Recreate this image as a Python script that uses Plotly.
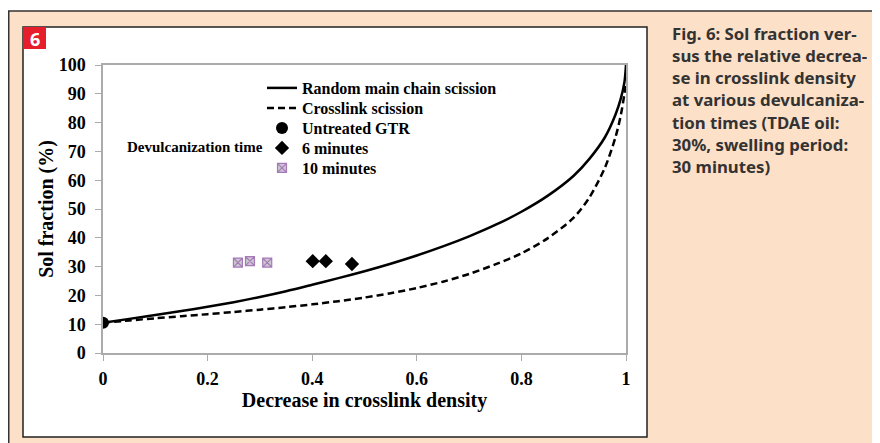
import plotly.graph_objects as go

# ---- data ----
rmcs_x = [0, 0.05, 0.1, 0.15, 0.2, 0.25, 0.3, 0.35, 0.4, 0.45, 0.5, 0.55, 0.6, 0.65, 0.7, 0.75, 0.8, 0.85, 0.9, 0.93, 0.96, 0.98, 0.99, 0.997, 1.0]
rmcs_y = [10.5, 11.85, 13.2, 14.6, 16.05, 17.65, 19.45, 21.45, 23.7, 26.0, 28.4, 31.0, 33.85, 37.0, 40.5, 44.45, 49.05, 54.55, 61.55, 67.4, 75.0, 82.8, 88.3, 94.0, 100.0]

cls_x = [0, 0.05, 0.1, 0.15, 0.2, 0.25, 0.3, 0.35, 0.4, 0.45, 0.5, 0.55, 0.6, 0.65, 0.7, 0.75, 0.8, 0.85, 0.9, 0.93, 0.96, 0.98, 0.99, 0.997, 1.0]
cls_y = [10.5, 11.3, 12.05, 12.77, 13.49, 14.24, 15.04, 15.92, 16.89, 17.99, 19.26, 20.76, 22.56, 24.76, 27.46, 30.76, 34.6, 39.8, 47.0, 54.0, 64.5, 75.0, 82.5, 90.0, 94.0]

untreated_x = [0]
untreated_y = [10.5]

min6_x = [0.401, 0.426, 0.476]
min6_y = [31.9, 31.9, 30.9]

min10_x = [0.258, 0.281, 0.314]
min10_y = [31.4, 31.9, 31.4]

caption_lines = [
    "Fig. 6: Sol fraction ver-",
    "sus the relative decrea-",
    "se in crosslink density",
    "at various devulcaniza-",
    "tion times (TDAE oil:",
    "30%, swelling period:",
    "30 minutes)",
]

# page has an 8px body margin: figure starts at page (8, 8)
OFF = 8
W, H = 880 - OFF, 443 - OFF
L, R, T, B = 103, 626, 65, 353  # plot area in page pixels


def px(x):
    return (x - L) / (R - L)


def py(y):
    return (B - y) / (B - T)


SERIF = "Liberation Serif, Times New Roman, serif"
SANS = "Noto Sans, sans-serif"

fig = go.Figure()
fig.add_trace(go.Scatter(x=rmcs_x, y=rmcs_y, mode="lines", name="Random main chain scission", legend="legend",
                         line=dict(color="black", width=2.5, shape="spline", smoothing=0.8)))
fig.add_trace(go.Scatter(x=cls_x, y=cls_y, mode="lines", name="Crosslink scission", legend="legend2",
                         line=dict(color="black", width=2.5, dash="7px,4px", shape="spline", smoothing=0.8)))
fig.add_trace(go.Scatter(x=untreated_x, y=untreated_y, mode="markers", name="Untreated GTR", legend="legend3",
                         marker=dict(symbol="circle", size=12, color="black")))
fig.add_trace(go.Scatter(x=min6_x, y=min6_y, mode="markers", name="6 minutes", legend="legend4",
                         marker=dict(symbol="diamond", size=11, color="black")))
fig.add_trace(go.Scatter(x=min10_x, y=min10_y, mode="markers", name="10 minutes", legend="legend5",
                         marker=dict(symbol="square-x", size=9, color="#cbc6cf",
                                     line=dict(color="#a679b8", width=1.2))))

shapes = [
    # outer peach frame
    dict(type="rect", xref="paper", yref="paper", x0=px(8.75), x1=px(900), y0=py(11), y1=py(470),
         fillcolor="#fde0c8", line=dict(color="#333333", width=1.5), layer="below"),
    # inner white panel
    dict(type="rect", xref="paper", yref="paper", x0=px(23), x1=px(647), y0=py(27), y1=py(437),
         fillcolor="white", line=dict(color="#222222", width=1.5), layer="below"),
    # red badge
    dict(type="rect", xref="paper", yref="paper", x0=px(23), x1=px(46), y0=py(27), y1=py(49),
         fillcolor="#e61e2b", line=dict(width=0), layer="below"),
]

annotations = [
    dict(text="6", xref="paper", yref="paper", x=px(34.5), y=py(38.5), showarrow=False,
         font=dict(family=SANS, size=18, color="white", weight="bold"), xanchor="center", yanchor="middle"),
    dict(text="Devulcanization time", xref="paper", yref="paper", x=px(195), y=py(147),
         showarrow=False, font=dict(family=SERIF, size=15, color="black", weight="bold"),
         xanchor="center", yanchor="middle"),
]
for i, line in enumerate(caption_lines):
    annotations.append(dict(text=line, xref="paper", yref="paper",
                            x=px(670), y=py(33.3 + i * 22.2), showarrow=False,
                            xanchor="left", yanchor="middle",
                            font=dict(family=SANS, size=16.8, color="#333333", weight="bold")))

tickfont = dict(family=SERIF, size=18, color="black", weight="bold")
axis_common = dict(showgrid=False, zeroline=False, showline=True, linecolor="#ababab", linewidth=1.5,
                   mirror=True, ticks="outside", ticklen=6, tickcolor="#ababab", tickwidth=1.2,
                   tickfont=tickfont)

legend_font = dict(family=SERIF, size=16, color="black", weight="bold")
legend_rows = [88, 108, 128, 148, 168]
legends = {}
for i, yy in enumerate(legend_rows):
    key = "legend" if i == 0 else "legend%d" % (i + 1)
    legends[key] = dict(x=px(262), y=py(yy), xanchor="left", yanchor="middle",
                        bgcolor="rgba(0,0,0,0)", font=legend_font, itemwidth=30)

fig.update_layout(
    width=W, height=H,
    margin=dict(l=L - OFF, r=W - (R - OFF), t=T - OFF, b=H - (B - OFF), autoexpand=False),
    paper_bgcolor="white", plot_bgcolor="rgba(0,0,0,0)",
    shapes=shapes, annotations=annotations,
    showlegend=True,
    xaxis=dict(range=[0, 1], tickvals=[0, 0.2, 0.4, 0.6, 0.8, 1], ticktext=["0", "0.2", "0.4", "0.6", "0.8", "1"],
               title=dict(text="Decrease in crosslink density",
                          font=dict(family=SERIF, size=20, color="black", weight="bold"), standoff=1),
               ticklabelstandoff=3, **axis_common),
    yaxis=dict(range=[0, 100], dtick=10,
               title=dict(text="Sol fraction (%)",
                          font=dict(family=SERIF, size=20, color="black", weight="bold"), standoff=0),
               ticklabelstandoff=6, **axis_common),
    **legends,
)

fig.write_html("out.html")
